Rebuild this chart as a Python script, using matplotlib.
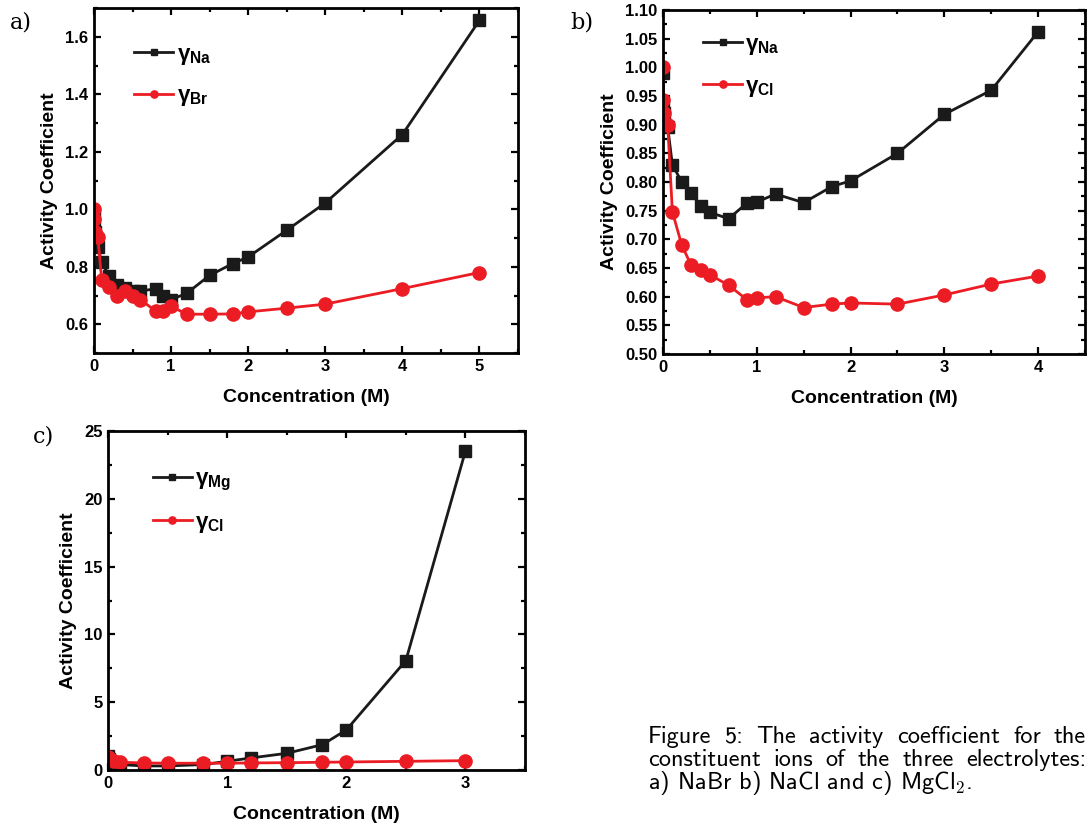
import matplotlib
matplotlib.use('Agg')
import matplotlib.pyplot as plt
from matplotlib.ticker import MultipleLocator, FormatStrFormatter

plt.rcParams['font.family'] = ['Liberation Sans', 'DejaVu Sans']
plt.rcParams['font.weight'] = 'bold'
plt.rcParams['mathtext.fontset'] = 'custom'
plt.rcParams['mathtext.rm'] = 'Liberation Sans'
plt.rcParams['mathtext.bf'] = 'Liberation Sans:bold'
plt.rcParams['mathtext.it'] = 'Liberation Sans:italic'

# ---------------- data ----------------
# a) NaBr
conc_a = [0.001, 0.005, 0.01, 0.05, 0.1, 0.2, 0.3, 0.4, 0.5, 0.6, 0.8, 0.9, 1.0,
          1.2, 1.5, 1.8, 2.0, 2.5, 3.0, 4.0, 5.0]
gamma_na_a = [0.98, 0.95, 0.92, 0.87, 0.815, 0.767, 0.736, 0.725, 0.715, 0.716, 0.723,
              0.700, 0.686, 0.707, 0.770, 0.811, 0.834, 0.927, 1.022, 1.260, 1.657]
gamma_br_a = [1.000, 0.967, 0.921, 0.904, 0.753, 0.728, 0.699, 0.715, 0.700, 0.686,
              0.646, 0.646, 0.663, 0.635, 0.635, 0.636, 0.643, 0.656, 0.670, 0.724, 0.780]

# b) NaCl
conc_b = [0.001, 0.005, 0.01, 0.05, 0.1, 0.2, 0.3, 0.4, 0.5, 0.7, 0.9, 1.0, 1.2,
          1.5, 1.8, 2.0, 2.5, 3.0, 3.5, 4.0]
gamma_na_b = [0.99, 0.94, 0.92, 0.896, 0.830, 0.800, 0.781, 0.758, 0.747, 0.736, 0.764,
              0.765, 0.779, 0.764, 0.792, 0.802, 0.850, 0.918, 0.960, 1.062]
gamma_cl_b = [1.000, 0.943, 0.920, 0.900, 0.748, 0.690, 0.655, 0.646, 0.638, 0.620,
              0.594, 0.598, 0.600, 0.581, 0.587, 0.589, 0.587, 0.603, 0.622, 0.636]

# c) MgCl2
conc_c = [0.001, 0.005, 0.01, 0.05, 0.1, 0.3, 0.5, 0.8, 1.0, 1.2, 1.5, 1.8, 2.0, 2.5, 3.0]
gamma_mg_c = [1.0, 0.8, 0.7, 0.5, 0.4, 0.3, 0.3, 0.4, 0.64, 0.89, 1.23, 1.87, 2.95, 8.07, 23.52]
gamma_cl_c = [0.95, 0.85, 0.78, 0.65, 0.57, 0.52, 0.50, 0.50, 0.50, 0.52, 0.54, 0.57,
              0.59, 0.64, 0.69]

xlabel = 'Concentration (M)'
ylabel = 'Activity Coefficient'
caption_lines = ['Figure 5:  The activity coefficient for the',
                 'constituent ions of the three electrolytes:',
                 'a) NaBr b) NaCl and c) MgCl$_\\mathsf{2}$.']

BLACK = '#1a1a1a'
RED = '#ec1c24'

W, H = 1088, 831
fig = plt.figure(figsize=(W / 100, H / 100), dpi=100)


def px_axes(left, right, top, bottom):
    return fig.add_axes([left / W, 1 - bottom / H, (right - left) / W, (bottom - top) / H])


def style(ax, xlim, ylim, xmaj, xmin, ymaj, ymin, yfmt):
    ax.set_xlim(*xlim)
    ax.set_ylim(*ylim)
    ax.xaxis.set_major_locator(MultipleLocator(xmaj))
    ax.xaxis.set_minor_locator(MultipleLocator(xmin))
    ax.yaxis.set_major_locator(MultipleLocator(ymaj))
    ax.yaxis.set_minor_locator(MultipleLocator(ymin))
    ax.yaxis.set_major_formatter(FormatStrFormatter(yfmt))
    ax.xaxis.set_major_formatter(FormatStrFormatter('%d'))
    ax.tick_params(which='both', direction='in', top=True, right=True, width=1.6)
    ax.tick_params(which='major', length=5, labelsize=12, pad=4)
    ax.tick_params(which='minor', length=3)
    for s in ax.spines.values():
        s.set_linewidth(2.0)
    for lab in ax.get_xticklabels() + ax.get_yticklabels():
        lab.set_fontweight('bold')
    ax.set_xlabel(xlabel, fontsize=14, fontweight='bold', labelpad=11)
    ax.set_ylabel(ylabel, fontsize=14, fontweight='bold', labelpad=5)


def plot_pair(ax, x, y1, y2, lab1, lab2, anchor):
    ax.plot(x, y1, '-s', color=BLACK, lw=2.0, ms=8.5, label=lab1)
    ax.plot(x, y2, '-o', color=RED, lw=2.0, ms=9.5, label=lab2)
    ax.legend(loc='upper left', bbox_to_anchor=anchor, frameon=False, fontsize=16,
              handlelength=1.75, handletextpad=0.15, labelspacing=0.85, borderpad=0,
              borderaxespad=0, markerscale=0.55)


ax_a = px_axes(94, 518, 8, 353)
plot_pair(ax_a, conc_a, gamma_na_a, gamma_br_a,
          r'$\mathrm{\gamma}_{\mathbf{Na}}$', r'$\mathrm{\gamma}_{\mathbf{Br}}$', (0.095, 0.897))
style(ax_a, (0, 5.5), (0.5, 1.7), 1, 0.5, 0.2, 0.1, '%.1f')
ax_a.set_yticks([0.6, 0.8, 1.0, 1.2, 1.4, 1.6])

ax_b = px_axes(663, 1085, 10, 354)
plot_pair(ax_b, conc_b, gamma_na_b, gamma_cl_b,
          r'$\mathrm{\gamma}_{\mathbf{Na}}$', r'$\mathrm{\gamma}_{\mathbf{Cl}}$', (0.095, 0.93))
style(ax_b, (0, 4.5), (0.5, 1.1), 1, 0.5, 0.05, 0.025, '%.2f')

ax_c = px_axes(108, 525, 431, 770)
plot_pair(ax_c, conc_c, gamma_mg_c, gamma_cl_c,
          r'$\mathrm{\gamma}_{\mathbf{Mg}}$', r'$\mathrm{\gamma}_{\mathbf{Cl}}$', (0.108, 0.89))
style(ax_c, (0, 3.5), (0, 25), 1, 0.5, 5, 2.5, '%d')

# panel letters
for txt, x, y in [('a)', 10, 22), ('b)', 570, 22), ('c)', 33, 437)]:
    fig.text(x / W, 1 - y / H, txt, family='DejaVu Serif', fontsize=16,
             fontweight='normal', va='center', ha='left')

# caption, justified
renderer = fig.canvas.get_renderer()
x0, x1 = 648, 1086
baselines = [743, 766, 789]
cap_kw = dict(family='cmss10', fontsize=17.5, fontweight='normal', va='baseline',
              ha='left', math_fontfamily='cm')
for i, line in enumerate(caption_lines):
    y = 1 - baselines[i] / H
    if i < 2:
        words = line.split()
        texts = [fig.text(0, y, w, **cap_kw) for w in words]
        widths = [t.get_window_extent(renderer).width for t in texts]
        gap = ((x1 - x0) - sum(widths)) / (len(words) - 1)
        xx = x0
        for t, wd in zip(texts, widths):
            t.set_x(xx / W)
            xx += wd + gap
    else:
        fig.text(x0 / W, y, line, **cap_kw)

fig.savefig('out.png', dpi=100)
